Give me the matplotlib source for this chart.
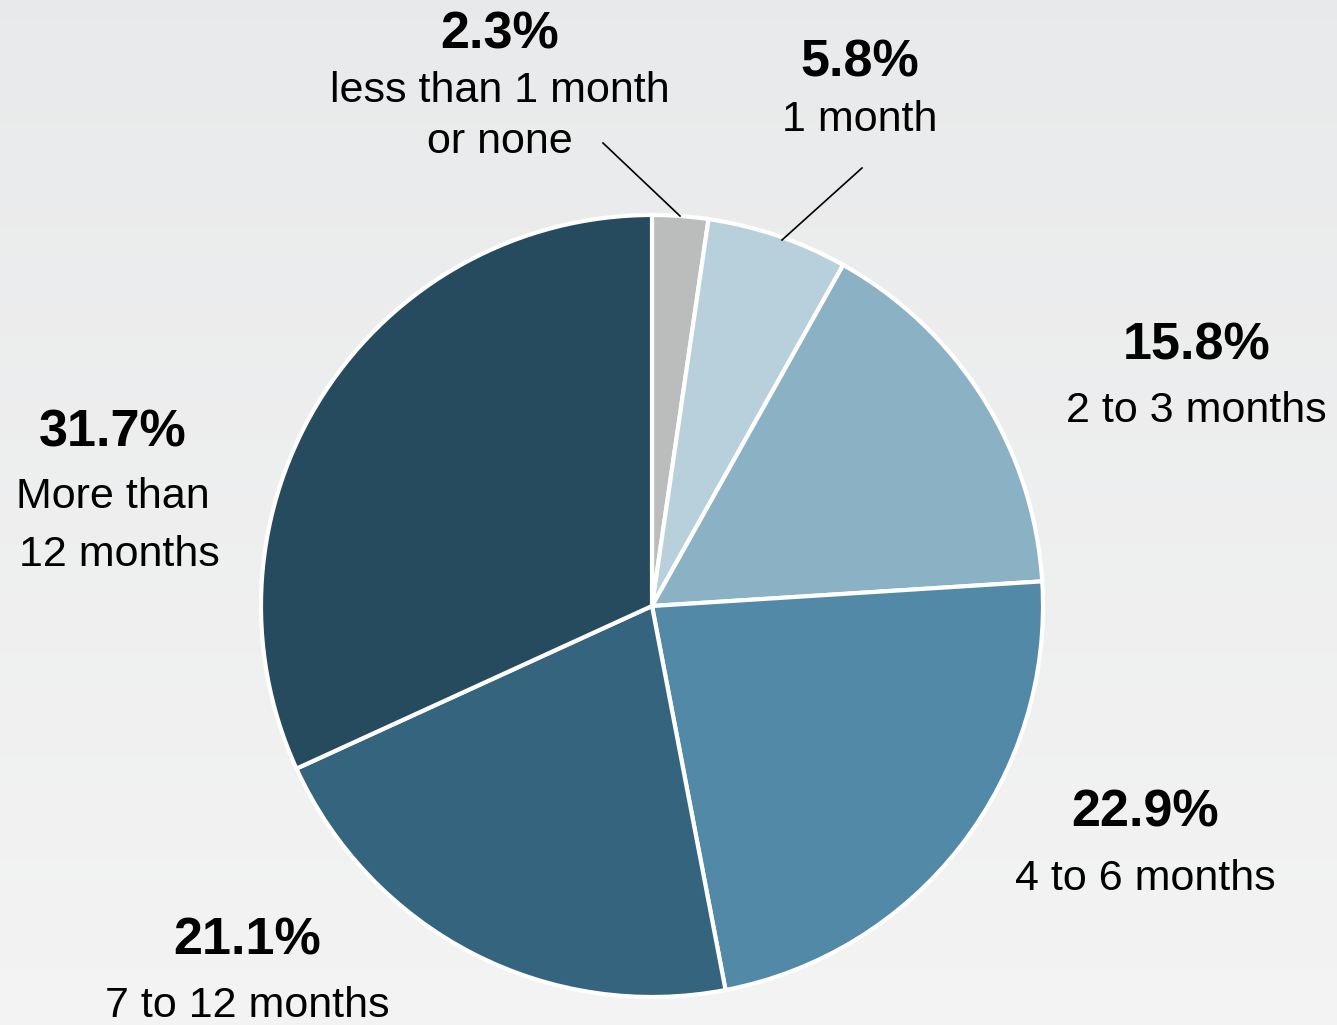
import matplotlib
matplotlib.use("Agg")
import matplotlib.pyplot as plt
import numpy as np

plt.rcParams['font.family'] = ['Liberation Sans', 'DejaVu Sans']

categories = ["less than 1 month\nor none", "1 month", "2 to 3 months", "4 to 6 months",
              "7 to 12 months", "More than\n12 months"]
values = [2.3, 5.8, 15.8, 22.9, 21.1, 31.7]
pct_labels = ["2.3%", "5.8%", "15.8%", "22.9%", "21.1%", "31.7%"]
colors = ["#BBBDBC", "#B8D0DC", "#8AB1C4", "#5289A6", "#35657E", "#264B5E"]

W, H = 1337, 1025
fig = plt.figure(figsize=(W / 100, H / 100), dpi=100)
ax = fig.add_axes([0, 0, 1, 1])

# background gradient
grad = np.linspace(0, 1, 256).reshape(-1, 1)
top = np.array([0.913, 0.917, 0.921])
bot = np.array([0.955, 0.955, 0.955])
img = top[None, None, :] * (1 - grad[:, :, None]) + bot[None, None, :] * grad[:, :, None]
ax.imshow(img, extent=[0, W, 0, H], origin='upper', aspect='auto', zorder=0)

cx, cy, r = 652, H - 606, 391
ax.pie(values, colors=colors, startangle=90, counterclock=False,
       center=(cx, cy), radius=r, frame=True,
       wedgeprops=dict(edgecolor='white', linewidth=3))
ax.set_xlim(0, W)
ax.set_ylim(0, H)
ax.set_aspect('equal')
ax.axis('off')

# label positions (pixel coords, top-origin): pct position, then each label line position
pct_pos = [(500, 35), (860, 63), (1197, 346), (1145, 813), (247, 941), (113, 433)]
line_pos = [[(500, 91), (500, 142)], [(860, 120)], [(1196, 411)], [(1145, 879)],
            [(247, 1006)], [(113, 497), (119, 555)]]
for (px, py), lines, p, c in zip(pct_pos, line_pos, pct_labels, categories):
    ax.text(px, H - py, p, ha='center', va='center', fontsize=37.5, fontweight='bold', color='black')
    for (lx, ly), s in zip(lines, c.split("\n")):
        ax.text(lx, H - ly, s, ha='center', va='center', fontsize=31, color='black')

# leader lines
ax.plot([603, 680], [H - 143, H - 216], color='black', lw=1.2)
ax.plot([862, 782], [H - 168, H - 240], color='black', lw=1.2)

fig.savefig("out.png", dpi=100)
